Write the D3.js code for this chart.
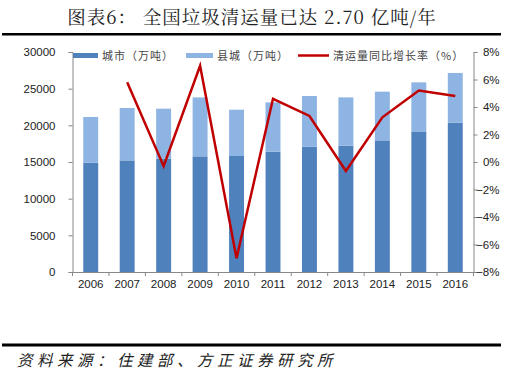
<!DOCTYPE html>
<html><head><meta charset="utf-8">
<script src="https://cdn.jsdelivr.net/npm/d3@7"></script>
<style>body{margin:0;background:#fff}svg{display:block}</style>
</head><body>
<script>
const years = ["2006","2007","2008","2009","2010","2011","2012","2013","2014","2015","2016"];
const city = [14900,15220,15450,15770,15820,16400,17090,17220,17950,19170,20360];
const county = [6240,7140,6820,8040,6310,6730,6910,6590,6640,6690,6780];
const growth = [null,5.8,-0.3,7.0,-7.0,4.6,3.35,-0.65,3.25,5.2,4.8];
const leftTicks = [0,5000,10000,15000,20000,25000,30000];
const rightTicks = [-8,-6,-4,-2,0,2,4,6,8];
const legendLabels = ["城市（万吨）","县城（万吨）","清运量同比增长率（%）"];

const W=510,H=379;
const svg=d3.select("body").append("svg").attr("width",W).attr("height",H);
const L=72.5,R=473.5,T=52,B=272;
const x=d3.scaleBand().domain(years).range([L,R]).paddingInner(0.59).paddingOuter(0.295);
const xb=d3.scaleBand().domain(years).range([L,R]);
const y=d3.scaleLinear().domain([0,30000]).range([B,T]);
const y2=d3.scaleLinear().domain([-8,8]).range([B,T]);
const cDark="#4F81BD",cLight="#8EB4E3",cRed="#C00000";
const font="'Liberation Sans',Arial,sans-serif";

// title
svg.append("text").attr("x",252).attr("y",24).attr("text-anchor","middle")
  .attr("font-family","'Noto Serif CJK SC','Noto Sans CJK SC',serif").attr("font-size",18.5).attr("letter-spacing",1).attr("fill","#222")
  .text("图表6：  全国垃圾清运量已达 2.70 亿吨/年");
svg.append("rect").attr("x",2).attr("y",33).attr("width",499).attr("height",2.5).attr("fill","#000");
svg.append("rect").attr("x",2).attr("y",343.5).attr("width",499).attr("height",3).attr("fill","#000");
svg.append("text").attr("x",17).attr("y",366).attr("font-family","'Noto Sans CJK SC',serif").attr("font-style","italic")
  .attr("font-size",15.5).attr("letter-spacing",4.5).attr("fill","#222").text("资料来源：住建部、方正证券研究所");

// bars
const g=svg.append("g");
g.selectAll(".c").data(years).join("rect").attr("x",d=>x(d)).attr("width",x.bandwidth())
  .attr("y",(d,i)=>y(city[i])).attr("height",(d,i)=>B-y(city[i])).attr("fill",cDark);
g.selectAll(".k").data(years).join("rect").attr("x",d=>x(d)).attr("width",x.bandwidth())
  .attr("y",(d,i)=>y(city[i]+county[i])).attr("height",(d,i)=>y(city[i])-y(city[i]+county[i])).attr("fill",cLight);

// axes
const ax=svg.append("g").attr("transform",`translate(${L},0)`)
  .call(d3.axisLeft(y).tickValues(leftTicks).tickSize(4).tickPadding(13).tickFormat(d3.format("d")));
const ar=svg.append("g").attr("transform",`translate(${R},0)`)
  .call(d3.axisRight(y2).tickValues(rightTicks).tickSize(4).tickPadding(22).tickFormat(d=>(d<0?"\u2212":"")+Math.abs(d)+"%"));
ar.selectAll("text").attr("text-anchor","end");
const axb=svg.append("g").attr("transform",`translate(0,${B})`)
  .call(d3.axisBottom(xb).tickSize(0).tickPadding(8));
// boundary ticks
svg.append("g").selectAll("line").data(d3.range(years.length+1)).join("line")
  .attr("x1",i=>L+i*xb.step()).attr("x2",i=>L+i*xb.step()).attr("y1",B).attr("y2",B+4)
  .attr("stroke","#888");
[ax,ar,axb].forEach(a=>{a.selectAll("path").attr("stroke","#888").attr("stroke-width",1);
  a.selectAll("line").attr("stroke","#888");
  a.selectAll("text").attr("font-family",font).attr("font-size",11.5).attr("fill","#222");});
axb.select("path").attr("d",`M${L},0.5H${R}`);

// line
const line=d3.line().defined(d=>d!=null).x((d,i)=>xb(years[i])+xb.bandwidth()/2).y(d=>y2(d));
svg.append("path").datum(growth).attr("d",line).attr("fill","none").attr("stroke",cRed).attr("stroke-width",2.5).attr("stroke-linejoin","miter");

// legend
const lg=svg.append("g").attr("font-family","'Noto Sans CJK SC',sans-serif").attr("font-size",11).attr("letter-spacing",1).attr("fill","#444");
const items=[{x:73,w:25,type:"bar",c:cDark,tx:102},{x:186,w:27,type:"bar",c:cLight,tx:217},{x:298,w:31,type:"line",c:cRed,tx:333}];
items.forEach((it,i)=>{
  if(it.type==="bar") lg.append("rect").attr("x",it.x).attr("y",53).attr("width",it.w).attr("height",5).attr("fill",it.c);
  else lg.append("line").attr("x1",it.x).attr("x2",it.x+it.w).attr("y1",55.5).attr("y2",55.5).attr("stroke",it.c).attr("stroke-width",2.5);
  lg.append("text").attr("x",it.tx).attr("y",59.5).text(legendLabels[i]);
});
</script>
</body></html>
